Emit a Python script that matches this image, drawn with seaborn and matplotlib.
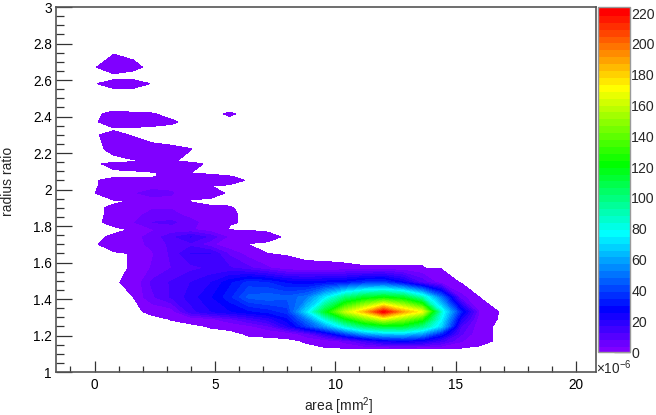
import numpy as np
import matplotlib
matplotlib.use("Agg")
import matplotlib.pyplot as plt
from matplotlib.colors import ListedColormap, BoundaryNorm
from matplotlib.ticker import MultipleLocator
import seaborn as sns

x_nodes = [0, .8, 1.6, 2.4, 3.2, 4, 4.8, 5.6, 6.4, 7.2, 8, 8.8, 9.6, 10.4, 11.2, 12, 12.8, 13.6, 14.4, 15.2, 16, 16.8, 17.6]
y_nodes = [1.13, 1.17, 1.21, 1.25, 1.29, 1.33, 1.41, 1.49, 1.57, 1.65, 1.70, 1.74, 1.78, 1.82, 1.86, 1.90, 1.94, 1.98, 2.02,
           2.05, 2.07, 2.09, 2.14, 2.155, 2.22, 2.30, 2.33, 2.37, 2.415, 2.44, 2.55, 2.58, 2.605, 2.63, 2.67, 2.75]

r113 = []
r117 = [0]*11 + [.15, 1, 6, 15, 25, 28, 25, 15, 5, .3]
r121 = [0, 0, 0, 0, 0, 0, 0, 0, .15, .2, .3, 8, 22, 42, 60, 68, 70, 60, 35, 10, .3]
r125 = [0, 0, 0, 0, 0, 0, .13, .22, 3, 8, 22, 40, 60, 85, 105, 115, 115, 100, 70, 14, .3]
r129 = [0, 0, 0, 0, .12, .3, 3, 8, 14, 20, 30, 52, 85, 120, 145, 165, 150, 130, 78, 24, 1]
r133 = [0, 0, 0, .2, 1.5, 16, 22, 26, 30, 33, 38, 72, 118, 160, 185, 224, 190, 170, 85, 35, 3]
r141 = [0, 0, .09, 8, 14, 20, 26, 34, 46, 48, 46, 52, 75, 100, 115, 120, 115, 90, 50, 6]
r149 = [0, 0, .32, 10, 14, 18, 22, 30, 38, 36, 30, 28, 30, 32, 38, 40, 28, 12, 1.5]
r157 = [0, 0, .14, 5, 9, 12, 14, 14, 10, 5, .6, .2, .18, .15, .12, .12, .12, .12]
r165 = [0, 0, .14, 4, 10, 18, 18, 8, 2, .1]
r170 = [0, .53, 2, 6, 10, 12, 6]
r174 = [0, .18, 3, 6, 12, 18, 12, 3, 1, .3]
r178 = [0, 0, .14, 4, 6, 5, 2]
r182 = [0, .25, 4, 9, 10, 6, 2, .18]
r186 = [0, .2, 3, 6, 6, 3, 2.5, .18]
r190 = [0, .2, 2, 4, 4, .5, .15, .13]
r194 = [0, 0, .13, 3, 3]
r198 = [0, 3, 4, 6, 5, .8, .4]
r202 = [0, .53, 2, 3, 3, 2, .11]
r205 = [0, .5, .8, 1, 2, 2, 1, .5]
r207 = [0, 0, 0, 0, .5, .5, .3, .13]
r209 = [0, 0, 0, 0, .5, .1]
r214 = [0, .27, .4, 1, 1.2, .27]
r2155 = [0, 0, 0, .15, .14]
r222 = [0, .2, .8, .18, .14, .105]
r230 = [0, .4]
r233 = []
r237 = [0, .53, .4, .25, .15]
r2415 = [0, .25, .15, .12, 0, 0, 0, .15]
r244 = []
r255 = []
r258 = [0, .8, .8]
r2605 = []
r263 = []
r267 = [0, 1.0, .2]
r275 = []

rows = [r113, r117, r121, r125, r129, r133, r141, r149, r157, r165, r170, r174, r178, r182, r186, r190, r194, r198, r202,
        r205, r207, r209, r214, r2155, r222, r230, r233, r237, r2415, r244, r255, r258, r2605, r263, r267, r275]
Z = np.array([r + [0] * (len(x_nodes) - len(r)) for r in rows], dtype=float)

sns.set_theme(style="white")
plt.rcParams["font.family"] = ["Liberation Sans", "DejaVu Sans"]
plt.rcParams["mathtext.default"] = "regular"

Z_MAX = 224.0
N = 50
step = Z_MAX / N
levels = np.r_[0.1, np.arange(1, N + 1) * step]

seg = [("#8000ff", "#0000ff", 7), ("#0000ff", "#00ffff", 12), ("#00ffff", "#00ff00", 11),
       ("#00ff00", "#ffff00", 12), ("#ffff00", "#ff0000", 12)]
pal = []
for a, b, n in seg:
    pal += sns.blend_palette([a, b], n)[:-1]
pal.append((1, 0, 0))
pal = pal[:N] + [pal[-1]] * max(0, N - len(pal))
cmap = ListedColormap(pal)
norm = BoundaryNorm(levels, N)

W, H = 656, 415
fig = plt.figure(figsize=(W / 100, H / 100), dpi=100)
ax = fig.add_axes([56 / W, 1 - 372 / H, (595.5 - 56) / W, 365 / H])
cax = fig.add_axes([598 / W, 1 - 352 / H, 31.5 / W, 345 / H])

cf = ax.contourf(x_nodes, y_nodes, Z, levels=levels, cmap=cmap, norm=norm)
ax.set_xlim(-1.6, 20.8)
ax.set_ylim(1, 3)

frame = "#555555"
for s in ax.spines.values():
    s.set_color(frame)
    s.set_linewidth(1.2)
ax.xaxis.set_major_locator(MultipleLocator(5))
ax.xaxis.set_minor_locator(MultipleLocator(1))
ax.yaxis.set_minor_locator(MultipleLocator(0.05))
ax.set_yticks(np.arange(1, 3.01, 0.2))
ax.set_yticklabels(["1", "1.2", "1.4", "1.6", "1.8", "2", "2.2", "2.4", "2.6", "2.8", "3"])
tick_c = "#333333"
ax.tick_params(axis="x", which="major", direction="in", length=8, width=0.9, color=tick_c, labelsize=9.8, labelcolor="black", bottom=True, pad=4)
ax.tick_params(axis="x", which="minor", direction="in", length=4, width=0.9, color=tick_c, bottom=True)
ax.tick_params(axis="y", which="major", direction="in", length=11.5, width=0.9, color=tick_c, labelsize=9.8, labelcolor="black", left=True, pad=3)
ax.tick_params(axis="y", which="minor", direction="in", length=5.8, width=0.9, color=tick_c, left=True)
ax.set_xlabel("area [mm$^2$]", fontsize=10)
ax.xaxis.set_label_coords((339 - 56) / 539.5, -(395 - 372) / 365)
ax.set_ylabel("radius ratio", fontsize=10)
ax.yaxis.set_label_coords(-(56 - 15) / 539.5, (372 - 181) / 365)

cb = fig.colorbar(cf, cax=cax, drawedges=False, spacing="proportional")
cb.solids.set_edgecolor("face")
cax.set_ylim(0, Z_MAX)
cb.set_ticks(np.arange(0, 221, 20))
cb.minorticks_off()
cax.tick_params(axis="y", which="major", direction="in", length=11.5, width=0.9, color="#222222", labelsize=10.2, right=True, left=False, pad=1.2)
cb.outline.set_edgecolor("#999999")
cb.outline.set_linewidth(1.0)
fig.text(596 / W, 1 - 374 / H, "×10$^{-6}$", fontsize=9.8, ha="left", va="baseline")

fig.savefig("out.png", dpi=100)
